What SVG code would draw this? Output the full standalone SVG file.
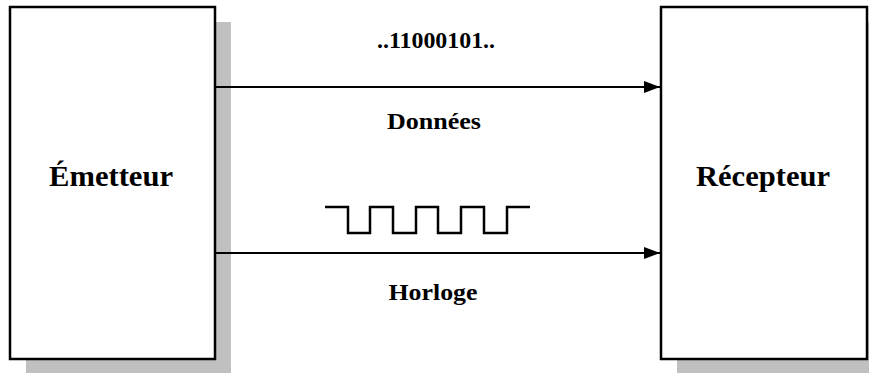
<svg xmlns="http://www.w3.org/2000/svg" width="869" height="374" viewBox="0 0 869 374">
  <style>
    .shadow { fill: #c0c0c0; stroke: none; }
    .box { fill: #ffffff; stroke: #000000; stroke-width: 2.5; }
    .wire { stroke: #000000; stroke-width: 2; fill: none; }
    .wave { stroke: #000000; stroke-width: 2.5; fill: none; }
    .lbl { font-family: "Liberation Serif", "Times New Roman", serif; font-weight: bold; fill: #000000; text-anchor: middle; }
    .big { font-size: 30px; }
    .small { font-size: 24px; }
  </style>
  <defs>
    <marker id="arrowhead" markerWidth="16" markerHeight="12" refX="16" refY="6" orient="auto" markerUnits="userSpaceOnUse">
      <polygon points="0,0 16,6 0,12" fill="#000000"/>
    </marker>
  </defs>

  <g id="emetteur">
    <rect class="shadow" x="26" y="22" width="205" height="351"/>
    <rect class="box" x="10" y="7" width="205" height="352"/>
    <text class="lbl big" x="111" y="186" textLength="124" lengthAdjust="spacingAndGlyphs">Émetteur</text>
  </g>

  <g id="recepteur">
    <rect class="shadow" x="677" y="22" width="206" height="351"/>
    <rect class="box" x="661" y="7" width="206" height="352"/>
    <text class="lbl big" x="763" y="186" textLength="134" lengthAdjust="spacingAndGlyphs">Récepteur</text>
  </g>

  <g id="connectors">
    <line class="wire" x1="215" y1="87" x2="660" y2="87" marker-end="url(#arrowhead)"/>
    <line class="wire" x1="215" y1="253" x2="660" y2="253" marker-end="url(#arrowhead)"/>
  </g>

  <g id="data-labels">
    <text class="lbl small" x="436" y="48" textLength="118" lengthAdjust="spacingAndGlyphs">..11000101..</text>
    <text class="lbl small" x="434" y="129" textLength="94" lengthAdjust="spacingAndGlyphs">Données</text>
  </g>

  <g id="clock-labels">
    <path class="wave" d="M325,207 H348 V233 H370 V207 H393 V233 H416 V207 H438 V233 H461 V207 H484 V233 H507 V207 H530"/>
    <text class="lbl small" x="433" y="300" textLength="89" lengthAdjust="spacingAndGlyphs">Horloge</text>
  </g>
</svg>
